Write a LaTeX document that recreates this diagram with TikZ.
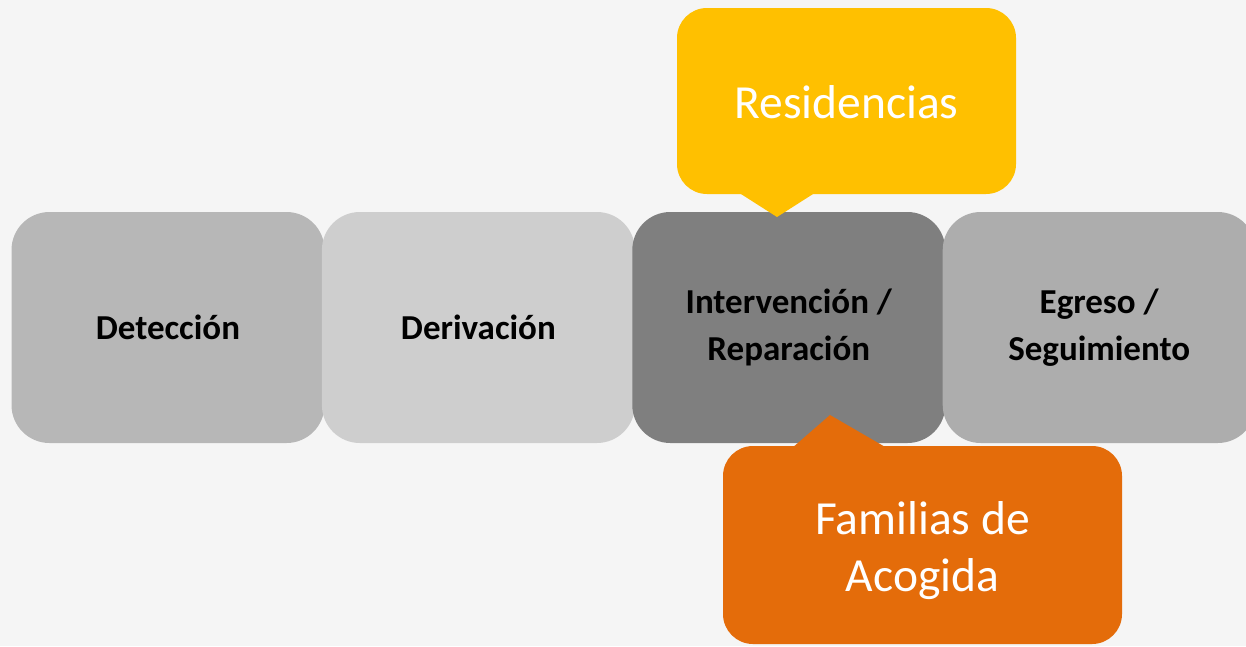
\documentclass[tikz,border=0pt]{standalone}
\usepackage{fontspec}
\setmainfont{Carlito}
\usepackage{tikz}
\usetikzlibrary{
	positioning
}
\definecolor{bgGray}{HTML}{F5F5F5}
\definecolor{stageA}{HTML}{B7B7B7}
\definecolor{stageB}{HTML}{CECECE}
\definecolor{stageC}{HTML}{7F7F7F}
\definecolor{stageD}{HTML}{ADADAD}
\definecolor{resYellow}{HTML}{FFC000}
\definecolor{famOrange}{HTML}{E46C0A}

\begin{document}
\begin{tikzpicture}[x=1pt,y=-1pt,
	stage/.style={rectangle,rounded corners=38pt,minimum width=313pt,
		minimum height=231pt,inner sep=0pt,align=center,
		font=\fontsize{35}{47}\selectfont\bfseries},
	bubble/.style={rectangle,rounded corners=30pt,inner sep=0pt},
	bubbletext/.style={align=center,text=white,inner sep=0pt,
		font=\fontsize{47.5}{57}\selectfont},
	node distance=-3pt
	]
	\fill[bgGray] (0,0) rectangle (1246,646);
	\useasboundingbox (0,0) rectangle (1246,646);
	\node [stage,fill=stageA] at (168,327.5)  (s1) {Detección};
	\node [stage,fill=stageB,right=of s1]     (s2) {Derivación};
	\node [stage,fill=stageC,right=of s2]     (s3) {Intervención /\\Reparación};
	\node [stage,fill=stageD,right=of s3]     (s4) {Egreso /\\Seguimiento};
	% callouts
	\node [bubble,fill=resYellow,minimum width=339pt,minimum height=186pt]
		at (846.5,101) (res) {};
	\node [bubbletext] at ([yshift=-1pt]res.center) (res text) {Residencias};
	\coordinate (res tip) at (777,217);
	\fill[resYellow] ([xshift=-111.5pt,yshift=4pt]res.south) -- (res tip)
		-- ([xshift=-27.5pt,yshift=4pt]res.south) -- cycle;
	\node [bubble,fill=famOrange,minimum width=399pt,minimum height=198pt]
		at (922.5,545) (fam) {};
	\node [bubbletext] at ([yshift=-6pt]fam.center) (fam text) {Familias de\\Acogida};
	\coordinate (fam tip) at (830,415);
	\fill[famOrange] ([xshift=-132.5pt,yshift=-4pt]fam.north) -- (fam tip)
		-- ([xshift=-32.5pt,yshift=-4pt]fam.north) -- cycle;
\end{tikzpicture}
\end{document}
